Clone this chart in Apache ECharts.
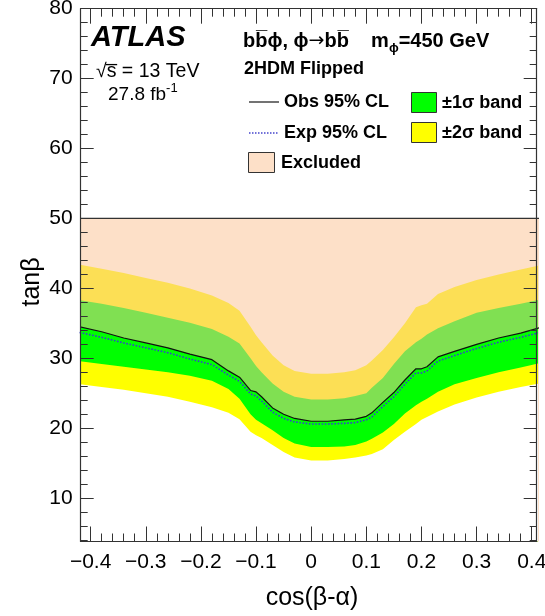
<!DOCTYPE html>
<html><head><meta charset="utf-8">
<script src="https://cdn.jsdelivr.net/npm/echarts@6/dist/echarts.min.js"></script>
<style>html,body{margin:0;padding:0;background:#fff}#c{width:545px;height:616px}</style>
</head><body><div id="c"></div>
<script>
// cos(beta-alpha) sample points
const cosBA = [-0.42,-0.38,-0.34,-0.30,-0.26,-0.22,-0.18,-0.15,-0.13,-0.11,-0.10,-0.09,-0.07,-0.05,-0.03,0.0,0.03,0.06,0.08,0.10,0.11,0.13,0.15,0.17,0.19,0.20,0.21,0.23,0.26,0.30,0.34,0.38,0.42];
// observed 95% CL limit on tan(beta)
const obsLimit = [34.5,33.8,32.9,32.2,31.5,30.6,29.8,28.2,27.3,25.4,25.2,24.5,22.9,22.0,21.4,21.0,21.0,21.2,21.3,21.7,22.2,23.7,25.1,26.9,28.5,28.5,28.8,30.2,31.0,32.0,32.9,33.6,34.5];
// expected 95% CL limit
const expLimit = [33.7,33.0,32.2,31.5,30.8,29.9,29.1,27.6,26.7,24.9,24.6,23.9,22.3,21.4,20.9,20.6,20.6,20.7,20.8,21.2,21.6,23.1,24.5,26.3,27.9,27.9,28.2,29.6,30.4,31.4,32.3,33.0,33.8];
// +/-1 sigma band
const plus1s  = [38.3,37.8,37.2,36.5,35.8,35.1,34.2,33.1,32.1,30.0,28.9,28.0,26.4,25.2,24.5,24.1,24.1,24.3,24.6,25.0,25.8,27.2,29.2,31.0,32.3,32.8,33.4,34.3,35.3,36.5,37.2,37.8,38.5];
const minus1s = [29.6,29.2,28.8,28.4,28.0,27.5,26.8,25.6,24.2,22.0,21.2,20.7,19.7,18.6,17.8,17.3,17.3,17.4,17.6,18.1,18.5,19.4,20.6,22.1,23.3,23.8,24.2,25.2,26.3,27.2,28.0,28.7,29.4];
// +/-2 sigma band
const plus2s  = [43.4,42.8,42.2,41.5,40.8,40.0,39.0,37.9,36.8,34.5,33.3,32.3,30.4,29.0,28.2,27.8,27.8,28.0,28.3,29.0,29.7,31.2,33.0,35.0,37.3,37.6,37.8,39.2,40.2,41.2,42.0,42.7,43.4];
const minus2s = [26.3,25.9,25.5,25.0,24.5,23.8,23.0,22.2,21.3,19.5,19.0,18.6,17.6,16.6,15.8,15.4,15.4,15.6,15.8,16.1,16.3,17.0,18.3,19.5,20.6,21.2,21.6,22.4,23.4,24.4,25.2,25.9,26.5];
// upper edge of the scanned tan(beta) range (excluded region top)
const excludedTop = 50;
// tick labels
const xTickLabels = [-0.4,-0.3,-0.2,-0.1,0,0.1,0.2,0.3,0.4];
const yTickLabels = [10,20,30,40,50,60,70,80];

const X_MIN = -0.418, X_MAX = 0.409, Y_MIN = 3.8, Y_MAX = 80;
const FONT = '"Liberation Sans", Arial, Helvetica, sans-serif';

const xMinor = [];
for (let i = -21; i <= 21; i++) { const v = +(i * 0.02).toFixed(2); if (v >= X_MIN && v <= X_MAX && i % 5 !== 0) xMinor.push(v); }
const yMinor = [];
for (let v = 4; v <= 80; v += 2) { if (v % 10 !== 0) yMinor.push(v); }

const AX = '#333';
function xAx(pos, vals, len, labels, line) {
  return {
    type: 'value', position: pos, min: X_MIN, max: X_MAX, z: 10,
    axisLine: { show: line, onZero: false, lineStyle: { color: AX, width: 1.2 } },
    axisTick: { show: true, inside: true, length: len, customValues: vals, lineStyle: { color: AX, width: 1 } },
    axisLabel: labels ? {
      show: true, customValues: xTickLabels, margin: 10, color: '#000', fontSize: 21, fontFamily: FONT,
      formatter: v => Math.abs(v) < 1e-9 ? '0' : v.toFixed(1).replace('-', '\u2212')
    } : { show: false },
    splitLine: { show: false }
  };
}
function yAx(pos, vals, len, labels, line) {
  return {
    type: 'value', position: pos, min: Y_MIN, max: Y_MAX, z: 10,
    axisLine: { show: line, onZero: false, lineStyle: { color: AX, width: 1.2 } },
    axisTick: { show: true, inside: true, length: len, customValues: vals, lineStyle: { color: AX, width: 1 } },
    axisLabel: labels ? {
      show: true, customValues: yTickLabels, margin: 8, color: '#000', fontSize: 21, fontFamily: FONT
    } : { show: false },
    splitLine: { show: false }
  };
}

const pts = arr => cosBA.map((x, i) => [x, arr[i]]);
function band(name, arr, color, z, line) {
  return {
    type: 'line', name, data: pts(arr), symbol: 'none', z, silent: true,
    lineStyle: line || { width: 0, opacity: 0 },
    areaStyle: { color, opacity: 1, origin: 'start' }
  };
}

const T = (extra) => Object.assign({ fill: '#000', textAlign: 'left', textVerticalAlign: 'middle', align: 'left', verticalAlign: 'middle' }, extra);

const chart = echarts.init(document.getElementById('c'));
chart.setOption({
  animation: false,
  backgroundColor: '#fff',
  grid: { left: 80.7, right: 8.3, top: 8.7, bottom: 74.5, containLabel: false, outerBoundsMode: 'none' },
  xAxis: [
    xAx('bottom', xTickLabels, 15, true, true),
    xAx('bottom', xMinor, 8, false, false),
    xAx('top', xTickLabels, 15, false, true),
    xAx('top', xMinor, 8, false, false)
  ],
  yAxis: [
    yAx('left', yTickLabels, 13, true, true),
    yAx('left', yMinor, 7, false, false),
    yAx('right', yTickLabels, 13, false, true),
    yAx('right', yMinor, 7, false, false)
  ],
  series: [
    band('Excluded', cosBA.map(() => excludedTop), '#fde0c8', 1, { color: '#333', width: 1.2 }),
    band('+2sigma', plus2s, '#fcdf55', 2),
    band('+1sigma', plus1s, '#80e052', 3),
    band('obs fill', obsLimit, '#00ff00', 4),
    band('-1sigma', minus1s, '#ffff00', 5),
    band('-2sigma', minus2s, '#ffffff', 6),
    { type: 'line', name: 'Exp 95% CL', data: pts(expLimit), symbol: 'none', z: 7,
      lineStyle: { color: '#3344cc', width: 1.6, type: 'dotted' } },
    { type: 'line', name: 'Obs 95% CL', data: pts(obsLimit), symbol: 'none', z: 8,
      lineStyle: { color: '#111', width: 1.2 } }
  ],
  graphic: [
    { type: 'text', x: 91, y: 38, z: 20, style: T({ text: 'ATLAS', font: 'italic bold 29px ' + FONT }) },
    { type: 'text', x: 96, y: 72, z: 20, style: T({ text: '\u221As\u0305 = 13 TeV', font: '19.5px ' + FONT }) },
    { type: 'text', x: 108, y: 95, z: 20, style: T({ text: '27.8 fb{sup|-1}', font: '19px ' + FONT, lineHeight: 26,
        rich: { sup: { fontSize: 13, fontFamily: FONT, lineHeight: 13, verticalAlign: 'top' } } }) },
    { type: 'text', x: 243, y: 41, z: 20, style: T({ text: 'bb\u0305\u03D5, \u03D5{arr|\u2192}bb\u0305    m{sub|\u03D5}=450 GeV', font: 'bold 20px ' + FONT, lineHeight: 28,
        rich: {
          sub: { fontSize: 13, fontWeight: 'bold', fontFamily: FONT, lineHeight: 13, verticalAlign: 'bottom' },
          arr: { fontSize: 19, fontFamily: '"DejaVu Sans"', lineHeight: 28 }
        } }) },
    { type: 'text', x: 244, y: 69, z: 20, style: T({ text: '2HDM Flipped', font: 'bold 18px ' + FONT }) },
    // legend
    { type: 'line', z: 20, shape: { x1: 249, y1: 102, x2: 279, y2: 102 }, style: { stroke: '#444', lineWidth: 1.5 } },
    { type: 'text', x: 284, y: 102, z: 20, style: T({ text: 'Obs 95% CL', font: 'bold 18px ' + FONT }) },
    { type: 'line', z: 20, shape: { x1: 249, y1: 133, x2: 279, y2: 133 }, style: { stroke: '#4444cc', lineWidth: 1.3, lineDash: [1.5, 1.5] } },
    { type: 'text', x: 284, y: 133, z: 20, style: T({ text: 'Exp 95% CL', font: 'bold 18px ' + FONT }) },
    { type: 'rect', z: 20, shape: { x: 248.5, y: 152.5, width: 26, height: 20 }, style: { fill: '#fde0c8', stroke: '#333', lineWidth: 1 } },
    { type: 'text', x: 281, y: 163, z: 20, style: T({ text: 'Excluded', font: 'bold 18px ' + FONT }) },
    { type: 'rect', z: 20, shape: { x: 411.5, y: 92.5, width: 25, height: 20 }, style: { fill: '#00ff00', stroke: '#333', lineWidth: 1 } },
    { type: 'text', x: 442, y: 103, z: 20, style: T({ text: '\u00B11\u03C3 band', font: 'bold 18px ' + FONT }) },
    { type: 'rect', z: 20, shape: { x: 411.5, y: 122.5, width: 25, height: 20 }, style: { fill: '#ffff00', stroke: '#333', lineWidth: 1 } },
    { type: 'text', x: 442, y: 133, z: 20, style: T({ text: '\u00B12\u03C3 band', font: 'bold 18px ' + FONT }) },
    // axis titles
    { type: 'text', x: 312, y: 598, z: 20, style: T({ text: 'cos(\u03B2-\u03B1)', font: '25px ' + FONT, textAlign: 'center', align: 'center' }) },
    { type: 'text', x: 32, y: 282, z: 20, rotation: Math.PI / 2, style: T({ text: 'tan\u03B2', font: '25px ' + FONT, textAlign: 'center', align: 'center' }) }
  ]
});
</script>
</body></html>
